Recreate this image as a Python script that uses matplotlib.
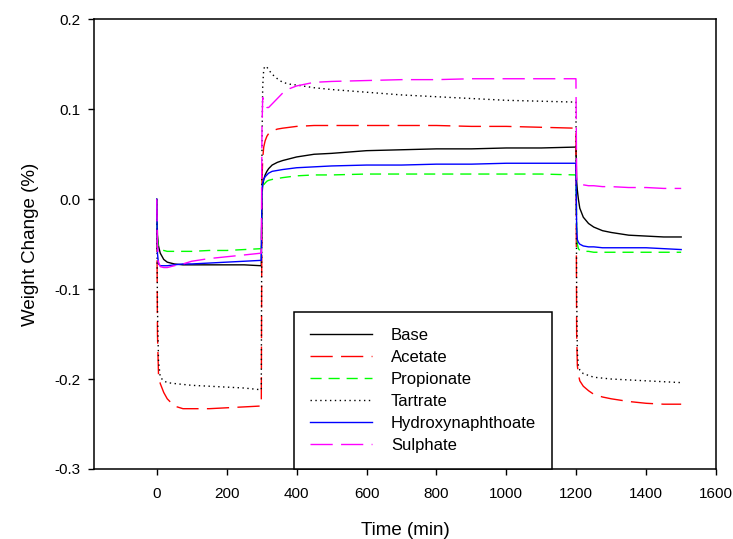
import matplotlib

matplotlib.use("Agg")
import matplotlib.pyplot as plt
import numpy as np

plt.rcParams["font.family"] = ["Liberation Sans", "DejaVu Sans"]

# time grid (min): hold at 0-300, step at 300-1200, step back at 1200-1500
time_min = [0, 2, 5, 10, 20, 30, 50, 75, 100, 150, 200, 250, 299,
            301, 303, 306, 310, 315, 320, 330, 345, 360, 380, 400, 450, 500,
            600, 700, 800, 900, 1000, 1100, 1199,
            1201, 1203, 1206, 1210, 1220, 1235, 1250, 1275, 1300, 1350, 1400, 1450, 1500]

base = [0, -0.040, -0.052, -0.060, -0.067, -0.070, -0.072, -0.073, -0.073, -0.073, -0.073, -0.073, -0.074,
        0.005, 0.015, 0.022, 0.027, 0.031, 0.034, 0.038, 0.041, 0.043, 0.045, 0.047, 0.050, 0.051,
        0.054, 0.055, 0.056, 0.056, 0.057, 0.057, 0.058,
        0.020, 0.010, 0.000, -0.010, -0.020, -0.027, -0.031, -0.035, -0.037, -0.040, -0.041, -0.042, -0.042]

acetate = [0, -0.150, -0.195, -0.205, -0.215, -0.222, -0.230, -0.233, -0.233, -0.233, -0.232, -0.231, -0.230,
           0.020, 0.045, 0.058, 0.065, 0.070, 0.073, 0.076, 0.078, 0.079, 0.080, 0.081, 0.082, 0.082,
           0.082, 0.082, 0.082, 0.081, 0.081, 0.080, 0.079,
           -0.150, -0.185, -0.195, -0.202, -0.208, -0.213, -0.217, -0.220, -0.222, -0.225, -0.227, -0.228, -0.228]

propionate = [0, -0.045, -0.054, -0.056, -0.057, -0.058, -0.058, -0.058, -0.058, -0.057, -0.057, -0.056, -0.055,
              0.005, 0.012, 0.016, 0.018, 0.020, 0.021, 0.022, 0.023, 0.024, 0.025, 0.026, 0.027, 0.027,
              0.028, 0.028, 0.028, 0.028, 0.028, 0.028, 0.027,
              -0.030, -0.050, -0.055, -0.057, -0.058, -0.058, -0.059, -0.059, -0.059, -0.059, -0.059, -0.059, -0.059]

tartrate = [0, -0.120, -0.180, -0.198, -0.202, -0.204, -0.205, -0.206, -0.207, -0.208, -0.209, -0.210, -0.212,
            0.060, 0.125, 0.145, 0.148, 0.147, 0.144, 0.139, 0.134, 0.130, 0.128, 0.127, 0.124, 0.122,
            0.119, 0.116, 0.114, 0.112, 0.110, 0.109, 0.108,
            -0.100, -0.170, -0.185, -0.190, -0.194, -0.196, -0.198, -0.199, -0.200, -0.201, -0.202, -0.203, -0.204]

hydroxynaphthoate = [0, -0.060, -0.072, -0.074, -0.074, -0.074, -0.073, -0.072, -0.072, -0.071, -0.070, -0.069, -0.068,
                     0.010, 0.018, 0.022, 0.025, 0.027, 0.029, 0.031, 0.032, 0.033, 0.034, 0.035, 0.036, 0.037,
                     0.038, 0.038, 0.039, 0.039, 0.040, 0.040, 0.040,
                     -0.030, -0.045, -0.048, -0.050, -0.052, -0.053, -0.053, -0.054, -0.054, -0.054, -0.054, -0.055, -0.056]

sulphate = [0, -0.050, -0.070, -0.075, -0.076, -0.076, -0.074, -0.072, -0.069, -0.066, -0.064, -0.062, -0.060,
            0.080, 0.113, 0.110, 0.106, 0.102, 0.102, 0.106, 0.112, 0.118, 0.123, 0.126, 0.130, 0.131,
            0.132, 0.133, 0.133, 0.134, 0.134, 0.134, 0.134,
            0.025, 0.019, 0.018, 0.017, 0.016, 0.015, 0.015, 0.014, 0.014, 0.013, 0.013, 0.012, 0.012]

series = [
    ("Base", base, "#000000", "-"),
    ("Acetate", acetate, "#FF0000", (0, (16, 6))),
    ("Propionate", propionate, "#00FF00", (0, (8, 5))),
    ("Tartrate", tartrate, "#000000", (0, (1, 2.5))),
    ("Hydroxynaphthoate", hydroxynaphthoate, "#0000FF", "-"),
    ("Sulphate", sulphate, "#FF00FF", (0, (16, 6))),
]

fig = plt.figure(figsize=(7.33, 5.39), dpi=100)
ax = fig.add_axes([0.128, 0.130, 0.849, 0.834])

t = np.array(time_min, dtype=float)
for label, vals, color, ls in series:
    ax.plot(t, np.array(vals, dtype=float), color=color, linestyle=ls, lw=1.0, label=label)

ax.set_xlim(-180, 1600)
ax.set_ylim(-0.3, 0.2)
ax.set_xticks([0, 200, 400, 600, 800, 1000, 1200, 1400, 1600])
ax.set_yticks([-0.3, -0.2, -0.1, 0.0, 0.1, 0.2])
ax.set_yticklabels(["-0.3", "-0.2", "-0.1", "0.0", "0.1", "0.2"])
ax.tick_params(axis="x", direction="out", length=4.5, width=1.0, pad=8.5, labelsize=11)
ax.tick_params(axis="y", direction="out", length=4.5, width=1.0, pad=5, labelsize=11)
for sp in ax.spines.values():
    sp.set_linewidth(1.1)

ax.set_xlabel("Time (min)", fontsize=13.5, labelpad=15)
ax.set_ylabel("Weight Change (%)", fontsize=13.5, labelpad=11)

leg = ax.legend(loc="lower left", bbox_to_anchor=(0.322, 0.0), borderaxespad=0,
                fontsize=12, frameon=True, fancybox=False, framealpha=1,
                edgecolor="#000000", handlelength=3.7, handletextpad=1.15,
                labelspacing=0.42, borderpad=0.95)
leg.get_frame().set_linewidth(1.1)

plt.savefig("out.png", dpi=100)
